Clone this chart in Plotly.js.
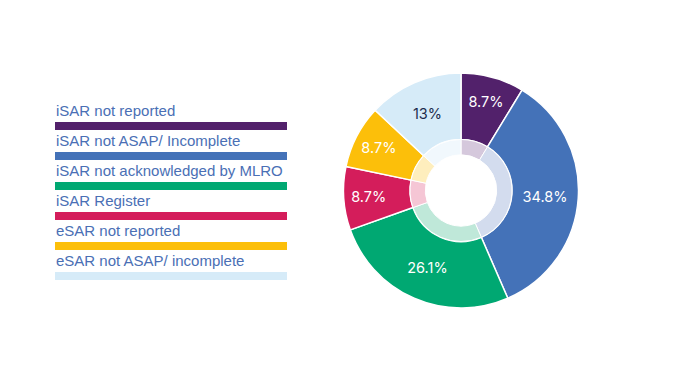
<!DOCTYPE html>
<html><head><meta charset="utf-8">
<script src="https://cdn.plot.ly/plotly-3.0.1.min.js"></script>
<style>html,body{margin:0;padding:0;background:#fff;}</style>
</head><body>
<div id="chart" style="width:682px;height:384px;"></div>
<script>
const categories = ["iSAR not reported","iSAR not ASAP/ Incomplete","iSAR not acknowledged by MLRO","iSAR Register","eSAR not reported","eSAR not ASAP/ incomplete"];
const counts = [2, 8, 6, 2, 2, 3];
const colors = ["#52216b","#4472b8","#00a872","#d41d5b","#fcbf0a","#d6ebf8"];
const innerColors = ["#d5c8dc","#d3dcee","#bfe8d9","#f5c6d5","#feeebd","#f1f8fd"];
const textColors = ["#ffffff","#ffffff","#ffffff","#ffffff","#ffffff","#1c2b4d"];

const W = 682, H = 384;
const outer = {
  type: "pie", values: counts, labels: categories, sort: false, direction: "clockwise", rotation: 0,
  hole: 0.434, marker: {colors: colors, line: {color: "#ffffff", width: 1.5}},
  textinfo: "percent", textposition: "inside", insidetextorientation: "horizontal",
  textfont: {family: "Inter, Roboto, sans-serif", size: 14.5, color: textColors},
  domain: {x: [343/W, 579/W], y: [1-308/H, 1-73/H]}, showlegend: false, hoverinfo: "label+percent"
};
const inner = {
  type: "pie", values: counts, labels: categories, sort: false, direction: "clockwise", rotation: 0,
  hole: 0.70, marker: {colors: innerColors, line: {color: "#ffffff", width: 1}},
  textinfo: "none",
  domain: {x: [410/W, 512/W], y: [1-241.5/H, 1-139.5/H]}, showlegend: false, hoverinfo: "skip"
};

const annotations = [], shapes = [];
const x0 = 54/W, x1 = 287/W, top0 = 122, step = 30;
categories.forEach((c, i) => {
  const by = top0 + i*step;
  annotations.push({x: x0, y: 1-(by-1)/H, xref: "paper", yref: "paper", xanchor: "left", yanchor: "bottom",
    text: c, showarrow: false, font: {family: "Liberation Sans, Arial, sans-serif", size: 15, color: "#4a6fb5"}});
  shapes.push({type: "rect", xref: "paper", yref: "paper", x0: 55/W, x1: x1, y0: 1-(by+8)/H, y1: 1-by/H,
    fillcolor: colors[i], line: {width: 0}});
});

Plotly.newPlot("chart", [outer, inner], {
  width: W, height: H, margin: {l: 0, r: 0, t: 0, b: 0},
  paper_bgcolor: "#ffffff", annotations: annotations, shapes: shapes
}, {displayModeBar: false, staticPlot: true});
</script>
</body></html>
